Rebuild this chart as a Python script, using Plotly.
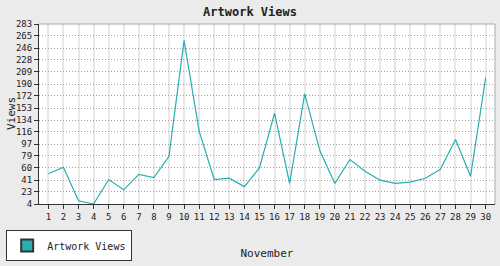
import plotly.graph_objects as go

days = list(range(1, 31))
day_labels = [str(d) for d in days]
views = [51, 61, 9, 4, 42, 26, 50, 45, 78, 258,
         117, 42, 44, 31, 60, 145, 36, 175, 87, 36,
         73, 55, 41, 36, 38, 44, 58, 104, 47, 200]
y_ticks = [4, 23, 41, 60, 79, 97, 116, 134, 153, 172, 190, 209, 228, 246, 265, 283]

LINE = "#2aaeae"
FONT = "DejaVu Sans Mono"

fig = go.Figure()
fig.add_trace(go.Scatter(x=days, y=views, mode="lines", name="Artwork Views",
                         line=dict(color=LINE, width=1.2), showlegend=False))
fig.add_trace(go.Bar(x=[None], y=[None], name="Artwork Views",
                     marker=dict(color=LINE, line=dict(color="#333333", width=1)),
                     showlegend=True))

fig.update_layout(
    width=500, height=266,
    margin=dict(l=39, r=5, t=24, b=53),
    paper_bgcolor="#ebebeb", plot_bgcolor="#ffffff",
    font=dict(family=FONT, size=10, color="#222222"),
    title=dict(text="<b>Artwork Views</b>", x=0.5, xanchor="center", y=0.955, yanchor="middle",
               font=dict(family=FONT, size=12, color="#222222")),
    showlegend=True,
    legend=dict(x=-0.072, xanchor="left", y=-0.145, yanchor="top",
                bgcolor="#ffffff", bordercolor="#333333", borderwidth=1,
                font=dict(family=FONT, size=10, color="#222222"),
                itemsizing="constant", itemwidth=30, tracegroupgap=0),
    xaxis=dict(range=[0.38, 30.62], tickmode="array", tickvals=days, ticktext=day_labels,
               showgrid=True, gridcolor="#e8e8e8", gridwidth=1.5,
               ticks="outside", ticklen=4, tickcolor="#333333",
               showline=True, linecolor="#333333", linewidth=1, mirror=False,
               title=dict(text="November", standoff=28, font=dict(family=FONT, size=11)),
               zeroline=False, tickfont=dict(size=9)),
    yaxis=dict(range=[4, 283.4], tickmode="array", tickvals=y_ticks,
               ticktext=[str(t) for t in y_ticks],
               showgrid=True, gridcolor="#a0a0a0", griddash="1px,2px", gridwidth=1,
               ticks="outside", ticklen=4, tickcolor="#333333",
               showline=True, linecolor="#333333", linewidth=1,
               zeroline=False, tickfont=dict(size=9)),
)
fig.add_annotation(text="Views", xref="paper", yref="paper", x=-28 / 456, y=0.5,
                   xanchor="center", yanchor="middle", textangle=-90, showarrow=False,
                   font=dict(family=FONT, size=11, color="#222222"))
fig.add_shape(type="line", xref="paper", yref="paper", x0=0, x1=1, y0=1, y1=1,
              line=dict(color="#aaaaaa", width=1))
fig.add_shape(type="line", xref="paper", yref="paper", x0=1, x1=1, y0=0, y1=1,
              line=dict(color="#aaaaaa", width=1))

fig.write_html("out.html")
